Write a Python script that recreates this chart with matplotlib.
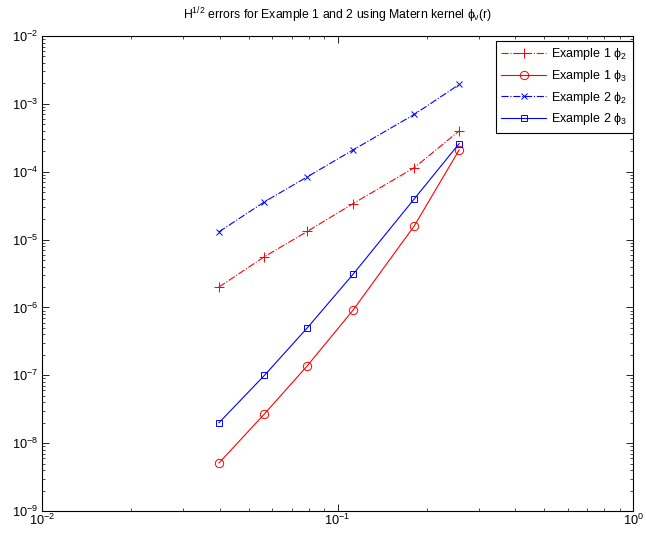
import matplotlib
matplotlib.use("Agg")
import matplotlib.pyplot as plt
from matplotlib.ticker import LogLocator, NullFormatter

plt.rcParams['font.family'] = ['Liberation Sans', 'DejaVu Sans']
plt.rcParams['mathtext.fontset'] = 'custom'
plt.rcParams['mathtext.rm'] = 'Liberation Sans'
plt.rcParams['mathtext.it'] = 'Liberation Sans'
plt.rcParams['mathtext.sf'] = 'Liberation Sans'
plt.rcParams['mathtext.bf'] = 'Liberation Sans:bold'

h = [0.0397, 0.0566, 0.079, 0.113, 0.182, 0.258]
ex1_phi2 = [2.0e-6, 5.6e-6, 1.32e-5, 3.4e-5, 1.15e-4, 4.0e-4]
ex1_phi3 = [5.1e-9, 2.7e-8, 1.38e-7, 9.2e-7, 1.6e-5, 2.1e-4]
ex2_phi2 = [1.3e-5, 3.6e-5, 8.4e-5, 2.1e-4, 7.0e-4, 1.93e-3]
ex2_phi3 = [2.0e-8, 1.0e-7, 5.0e-7, 3.1e-6, 4.0e-5, 2.6e-4]

labels = [r"Example 1 $\phi_2$", r"Example 1 $\phi_3$",
          r"Example 2 $\phi_2$", r"Example 2 $\phi_3$"]

fig = plt.figure(figsize=(6.46, 5.34), dpi=100)
ax = fig.add_axes([0.0650, 0.0430, 0.9150, 0.8896])

lw = 0.8
mew = 0.7
ax.loglog(h, ex1_phi2, color='red', ls='-.', marker='+', ms=6.5, mew=mew, lw=lw, label=labels[0])
ax.loglog(h, ex1_phi3, color='red', ls='-', marker='o', ms=6, mfc='none', mew=mew, lw=lw, label=labels[1])
ax.loglog(h, ex2_phi2, color='blue', ls='-.', marker='x', ms=4.5, mew=mew, lw=lw, label=labels[2])
ax.loglog(h, ex2_phi3, color='blue', ls='-', marker='s', ms=4.8, mfc='none', mew=mew, lw=lw, label=labels[3])

ax.set_xlim(1e-2, 1e0)
ax.set_ylim(1e-9, 1e-2)

ax.xaxis.set_major_locator(LogLocator(base=10, numticks=10))
ax.yaxis.set_major_locator(LogLocator(base=10, numticks=20))
ax.xaxis.set_minor_locator(LogLocator(base=10, subs=range(2, 10), numticks=20))
ax.yaxis.set_minor_locator(LogLocator(base=10, subs=range(2, 10), numticks=20))
ax.xaxis.set_minor_formatter(NullFormatter())
ax.yaxis.set_minor_formatter(NullFormatter())

ax.tick_params(which='both', direction='in', top=True, right=True, labelsize=9.2)
ax.tick_params(axis='x', which='major', pad=1.5)
ax.tick_params(axis='y', which='major', pad=3)
ax.tick_params(which='major', length=5, width=0.6)
ax.tick_params(which='minor', length=2.5, width=0.5)
for s in ax.spines.values():
    s.set_linewidth(0.8)

ax.set_title(r"H$^{1/2}$ errors for Example 1 and 2 using Matern kernel $\phi_\nu$(r)",
             fontsize=8.8, pad=12)

leg = ax.legend(loc='upper right', bbox_to_anchor=(1.0, 0.99), fontsize=9, numpoints=1,
                handlelength=3.6, fancybox=False, framealpha=1, edgecolor='black',
                borderaxespad=0.0, labelspacing=0.45, handletextpad=0.4,
                borderpad=0.45)
leg.get_frame().set_linewidth(0.8)

fig.savefig("out.png", dpi=100)
